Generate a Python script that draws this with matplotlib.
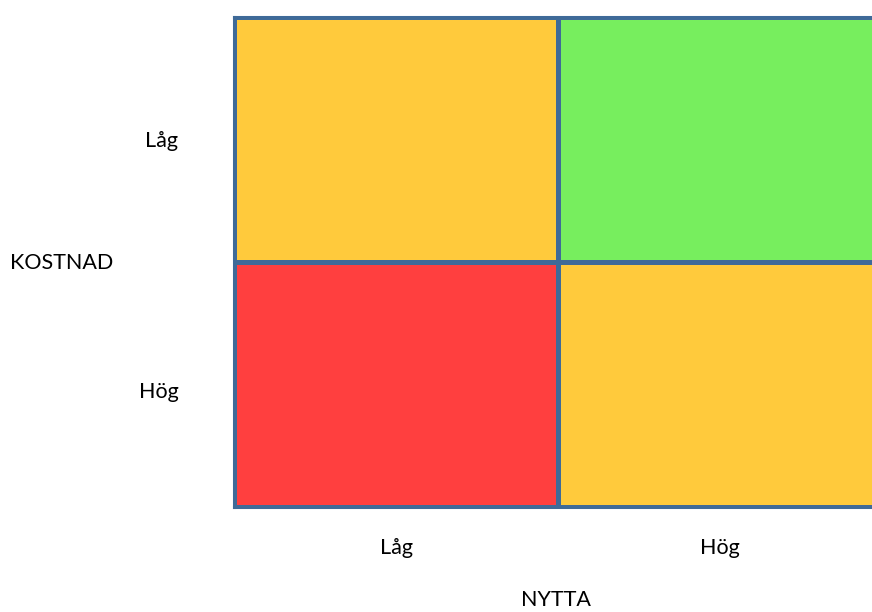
import numpy as np
import matplotlib.pyplot as plt
import matplotlib.transforms as mtransforms
from matplotlib.colors import ListedColormap

# Data: cost (rows, top to bottom) vs benefit (columns)
kostnad_labels = ["Låg", "Hög"]
nytta_labels = ["Låg", "Hög"]
# 0 = red (bad), 1 = yellow (medium), 2 = green (good)
priority = np.array([[1, 2],
                     [0, 1]])

colors = ["#FF3F3F", "#FFCA3C", "#77EE5E"]
border = "#3F6A98"

plt.rcParams['font.family'] = ['Lato', 'DejaVu Sans']

fig = plt.figure(figsize=(8.72, 6.12), dpi=100)
W, H = 872, 612
# axes extends past the right edge of the figure like in the reference
ax = fig.add_axes([234 / W, (H - 507) / H, 648 / W, 490 / H])

ax.pcolormesh(priority[::-1], cmap=ListedColormap(colors), vmin=-0.5, vmax=2.5,
              edgecolors=border, linewidth=2.2)
ax.set_xlim(0, 2)
ax.set_ylim(0, 2)
for s in ax.spines.values():
    s.set_color(border)
    s.set_linewidth(2.2)

ax.set_xticks([0.5, 1.5], nytta_labels, fontsize=15.5)
ax.set_yticks([0.5, 1.5], kostnad_labels[::-1], fontsize=15.5)
ax.tick_params(axis='x', length=0, pad=22)
ax.tick_params(axis='y', length=0, pad=40)

# lower "Hög" label sits a little below the cell centre in the original
low = ax.get_yticklabels()[0]
low.set_transform(low.get_transform() +
                  mtransforms.ScaledTranslation(0, -5 / 100, fig.dpi_scale_trans))

fig.text(62 / W, 1 - 263 / H, "KOSTNAD", fontsize=15.5, ha='center', va='center')
fig.text(556 / W, 1 - 600 / H, "NYTTA", fontsize=15.5, ha='center', va='center')

fig.savefig("out.png", dpi=100)
